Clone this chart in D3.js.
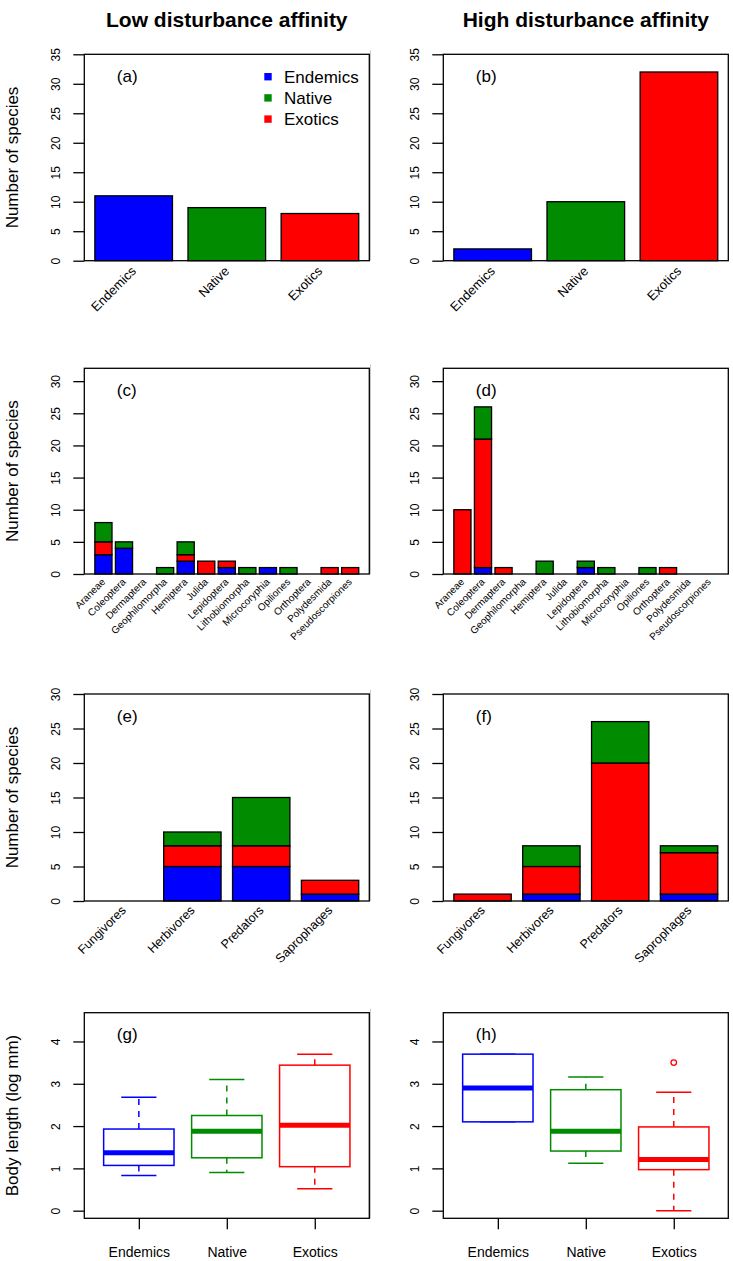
<!DOCTYPE html>
<html><head><meta charset="utf-8">
<script src="https://cdn.jsdelivr.net/npm/d3@7"></script>
<style>body{margin:0;background:#fff}svg{display:block;font-family:"Liberation Sans",Arial,Helvetica,sans-serif}</style>
</head><body><svg id="c" width="733" height="1261"></svg>
<script>
// ---------- DATA ----------
const statusNames = ["Endemics", "Native", "Exotics"];
const statusColors = ["#0000FF", "#008B00", "#FF0000"];
const statusLow = [11, 9, 8];
const statusHigh = [2, 10, 32];

const orders = ["Araneae","Coleoptera","Dermaptera","Geophilomorpha","Hemiptera","Julida","Lepidoptera","Lithobiomorpha","Microcoryphia","Opiliones","Orthoptera","Polydesmida","Pseudoscorpiones"];
const orderEndLow  = [3, 4, 0, 0, 2, 0, 1, 0, 1, 0, 0, 0, 0];
const orderExoLow  = [2, 0, 0, 0, 1, 2, 1, 0, 0, 0, 0, 1, 1];
const orderNatLow  = [3, 1, 0, 1, 2, 0, 0, 1, 0, 1, 0, 0, 0];
const orderEndHigh = [0, 1, 0, 0, 0, 0, 1, 0, 0, 0, 0, 0, 0];
const orderExoHigh = [10, 20, 1, 0, 0, 0, 0, 0, 0, 0, 1, 0, 0];
const orderNatHigh = [0, 5, 0, 0, 2, 0, 1, 1, 0, 1, 0, 0, 0];

const trophic = ["Fungivores", "Herbivores", "Predators", "Saprophages"];
const trophEndLow  = [0, 5, 5, 1];
const trophExoLow  = [0, 3, 3, 2];
const trophNatLow  = [0, 2, 7, 0];
const trophEndHigh = [0, 1, 0, 1];
const trophExoHigh = [1, 4, 20, 6];
const trophNatHigh = [0, 3, 6, 1];

// boxplot stats: [lower whisker, Q1, median, Q3, upper whisker]
const bodyLow = [
  [0.83, 1.07, 1.37, 1.93, 2.68],
  [0.90, 1.25, 1.88, 2.25, 3.10],
  [0.52, 1.04, 2.02, 3.44, 3.70]
];
const bodyHigh = [
  [2.10, 2.10, 2.90, 3.70, 3.70],
  [1.12, 1.41, 1.88, 2.86, 3.16],
  [0.00, 0.97, 1.21, 1.98, 2.80]
];
const bodyHighOutliers = [[], [], [3.50]];
const bodyLowOutliers = [[], [], []];

const yTicksStatus = [0, 5, 10, 15, 20, 25, 30, 35];
const yTicksOrder = [0, 5, 10, 15, 20, 25, 30];
const yTicksTroph = [0, 5, 10, 15, 20, 25, 30];
const yTicksBody = [0, 1, 2, 3, 4];

const columnTitles = ["Low disturbance affinity", "High disturbance affinity"];

// ---------- LAYOUT ----------
const svg = d3.select("#c");
const colX = [[84.3, 369.3], [443.3, 728.3]];
const rows = [
  {top: 54.3, bottom: 260.7, dom: [0, 35], ticks: yTicksStatus, ylab: "Number of species"},
  {top: 368.3, bottom: 574, dom: [0, 32], ticks: yTicksOrder, ylab: "Number of species"},
  {top: 694, bottom: 901, dom: [0, 30], ticks: yTicksTroph, ylab: "Number of species"},
  {top: 1012.7, bottom: 1218.3, dom: [-0.18, 4.68], ticks: yTicksBody, ylab: "Body length (log mm)"}
];
const lw = 1.3;

// titles
columnTitles.forEach((t, i) => {
  svg.append("text").attr("x", (colX[i][0] + colX[i][1]) / 2).attr("y", 26.6)
    .attr("text-anchor", "middle").attr("font-weight", "bold").attr("font-size", 21).text(t);
});

function frame(ri, ci, label) {
  const r = rows[ri], [x0, x1] = colX[ci];
  const y = d3.scaleLinear().domain(r.dom).range([r.bottom, r.top]);
  const g = svg.append("g");
  if (ci === 1) {
    svg.append("line").attr("x1", 370.5).attr("x2", 370.5).attr("y1", r.top - 4).attr("y2", r.bottom)
      .attr("stroke", "#c8c8c8").attr("stroke-width", 1);
  }
  const ax = g.append("g").attr("transform", `translate(${x0},0)`)
    .call(d3.axisLeft(y).tickValues(r.ticks).tickSize(11).tickFormat(d3.format("d")));
  ax.select(".domain").remove();
  ax.selectAll("line").attr("stroke", "#000").attr("stroke-width", lw);
  ax.selectAll("text").attr("x", null).attr("dy", null).attr("fill", "#000")
    .attr("font-size", 12).attr("text-anchor", "middle")
    .attr("transform", "translate(-24.3,0) rotate(-90)");
  if (ci === 0) {
    svg.append("text").attr("transform", `translate(18,${(r.top + r.bottom) / 2}) rotate(-90)`)
      .attr("text-anchor", "middle").attr("font-size", 17).text(r.ylab);
  }
  svg.append("text").attr("x", x0 + 32.5).attr("y", r.top + 27.5).attr("font-size", 17).text(label);
  return {g, y, x0, x1, r};
}

function finishBox(f) {
  f.g.append("rect").attr("x", f.x0).attr("y", f.r.top).attr("width", f.x1 - f.x0)
    .attr("height", f.r.bottom - f.r.top).attr("fill", "none").attr("stroke", "#000").attr("stroke-width", lw);
}

function barX(n, f) {
  const span = n * 1.2 - 0.2, pad = 0.04 * span;
  return d3.scaleLinear().domain([0.2 - pad, n * 1.2 + pad]).range([f.x0, f.x1]);
}

function stackedBars(ri, ci, label, cats, end, exo, nat, fontSize, labelGap) {
  const f = frame(ri, ci, label);
  const x = barX(cats.length, f);
  const data = cats.map((c, i) => ({c, i, E: end[i], X: exo[i], N: nat[i]}));
  const keys = ["E", "X", "N"];
  const col = {E: statusColors[0], N: statusColors[1], X: statusColors[2]};
  const series = d3.stack().keys(keys)(data);
  series.forEach(s => {
    f.g.selectAll(null).data(s).enter().append("rect")
      .attr("x", d => x(0.2 + d.data.i * 1.2))
      .attr("width", d => x(1.2 + d.data.i * 1.2) - x(0.2 + d.data.i * 1.2))
      .attr("y", d => f.y(d[1]))
      .attr("height", d => f.y(d[0]) - f.y(d[1]))
      .attr("fill", col[s.key]).attr("stroke", "#000").attr("stroke-width", lw);
  });
  finishBox(f);
  f.g.selectAll(null).data(cats).enter().append("text")
    .attr("transform", (d, i) => `translate(${x(0.7 + i * 1.2)},${f.r.bottom + labelGap}) rotate(-45)`)
    .attr("text-anchor", "end").attr("dy", "0.35em").attr("font-size", fontSize).text(d => d);
  return f;
}

function simpleBars(ci, label, vals) {
  const f = frame(0, ci, label);
  const x = barX(vals.length, f);
  f.g.selectAll(null).data(vals).enter().append("rect")
    .attr("x", (d, i) => x(0.2 + i * 1.2)).attr("width", (d, i) => x(1.2 + i * 1.2) - x(0.2 + i * 1.2))
    .attr("y", d => f.y(d)).attr("height", d => f.y(0) - f.y(d))
    .attr("fill", (d, i) => statusColors[i]).attr("stroke", "#000").attr("stroke-width", lw);
  finishBox(f);
  f.g.selectAll(null).data(statusNames).enter().append("text")
    .attr("transform", (d, i) => `translate(${x(0.7 + i * 1.2)},${f.r.bottom + 8}) rotate(-45)`)
    .attr("text-anchor", "end").attr("dy", "0.35em").attr("font-size", 13).text(d => d);
  return f;
}

function boxes(ci, label, stats, outliers) {
  const f = frame(3, ci, label);
  const n = stats.length;
  const x = d3.scaleLinear().domain([0.5 - 0.04 * n, n + 0.5 + 0.04 * n]).range([f.x0, f.x1]);
  stats.forEach((s, i) => {
    const cx = x(i + 1), c = statusColors[i];
    const hw = x(1.4) - x(1), cw = x(1.2) - x(1);
    const g = f.g.append("g");
    g.append("line").attr("x1", cx).attr("x2", cx).attr("y1", f.y(s[3])).attr("y2", f.y(s[4]))
      .attr("stroke", c).attr("stroke-width", 1.5).attr("stroke-dasharray", "6,6");
    g.append("line").attr("x1", cx).attr("x2", cx).attr("y1", f.y(s[1])).attr("y2", f.y(s[0]))
      .attr("stroke", c).attr("stroke-width", 1.5).attr("stroke-dasharray", "6,6");
    [s[0], s[4]].forEach(v => g.append("line").attr("x1", cx - cw).attr("x2", cx + cw)
      .attr("y1", f.y(v)).attr("y2", f.y(v)).attr("stroke", c).attr("stroke-width", 1.5));
    g.append("rect").attr("x", cx - hw).attr("width", 2 * hw).attr("y", f.y(s[3]))
      .attr("height", f.y(s[1]) - f.y(s[3])).attr("fill", "#fff").attr("stroke", c).attr("stroke-width", 1.5);
    g.append("line").attr("x1", cx - hw).attr("x2", cx + hw).attr("y1", f.y(s[2])).attr("y2", f.y(s[2]))
      .attr("stroke", c).attr("stroke-width", 5);
    outliers[i].forEach(v => g.append("circle").attr("cx", cx).attr("cy", f.y(v)).attr("r", 2.8)
      .attr("fill", "none").attr("stroke", c).attr("stroke-width", 1.3));
  });
  finishBox(f);
  const ax = f.g.append("g").attr("transform", `translate(0,${f.r.bottom})`)
    .call(d3.axisBottom(x).tickValues(d3.range(1, n + 1)).tickSize(11).tickFormat((d, i) => statusNames[i]));
  ax.select(".domain").remove();
  ax.selectAll("line").attr("stroke", "#000").attr("stroke-width", lw);
  ax.selectAll("text").attr("y", 39).attr("dy", null).attr("font-size", 14).attr("fill", "#000");
  return f;
}

// ---------- PANELS ----------
const fa = simpleBars(0, "(a)", statusLow);
simpleBars(1, "(b)", statusHigh);

// legend in (a)
const leg = svg.append("g");
statusNames.forEach((nm, i) => {
  const cy = fa.r.top + 22.4 + i * 21.2;
  leg.append("rect").attr("x", fa.x1 - 105).attr("y", cy - 3.7).attr("width", 7.4).attr("height", 7.4)
    .attr("fill", statusColors[i]);
  leg.append("text").attr("x", fa.x1 - 85.3).attr("y", cy + 6).attr("font-size", 17).text(nm);
});

stackedBars(1, 0, "(c)", orders, orderEndLow, orderExoLow, orderNatLow, 10, 6);
stackedBars(1, 1, "(d)", orders, orderEndHigh, orderExoHigh, orderNatHigh, 10, 6);
stackedBars(2, 0, "(e)", trophic, trophEndLow, trophExoLow, trophNatLow, 12.5, 7);
stackedBars(2, 1, "(f)", trophic, trophEndHigh, trophExoHigh, trophNatHigh, 12.5, 7);

boxes(0, "(g)", bodyLow, bodyLowOutliers);
boxes(1, "(h)", bodyHigh, bodyHighOutliers);
</script></body></html>
